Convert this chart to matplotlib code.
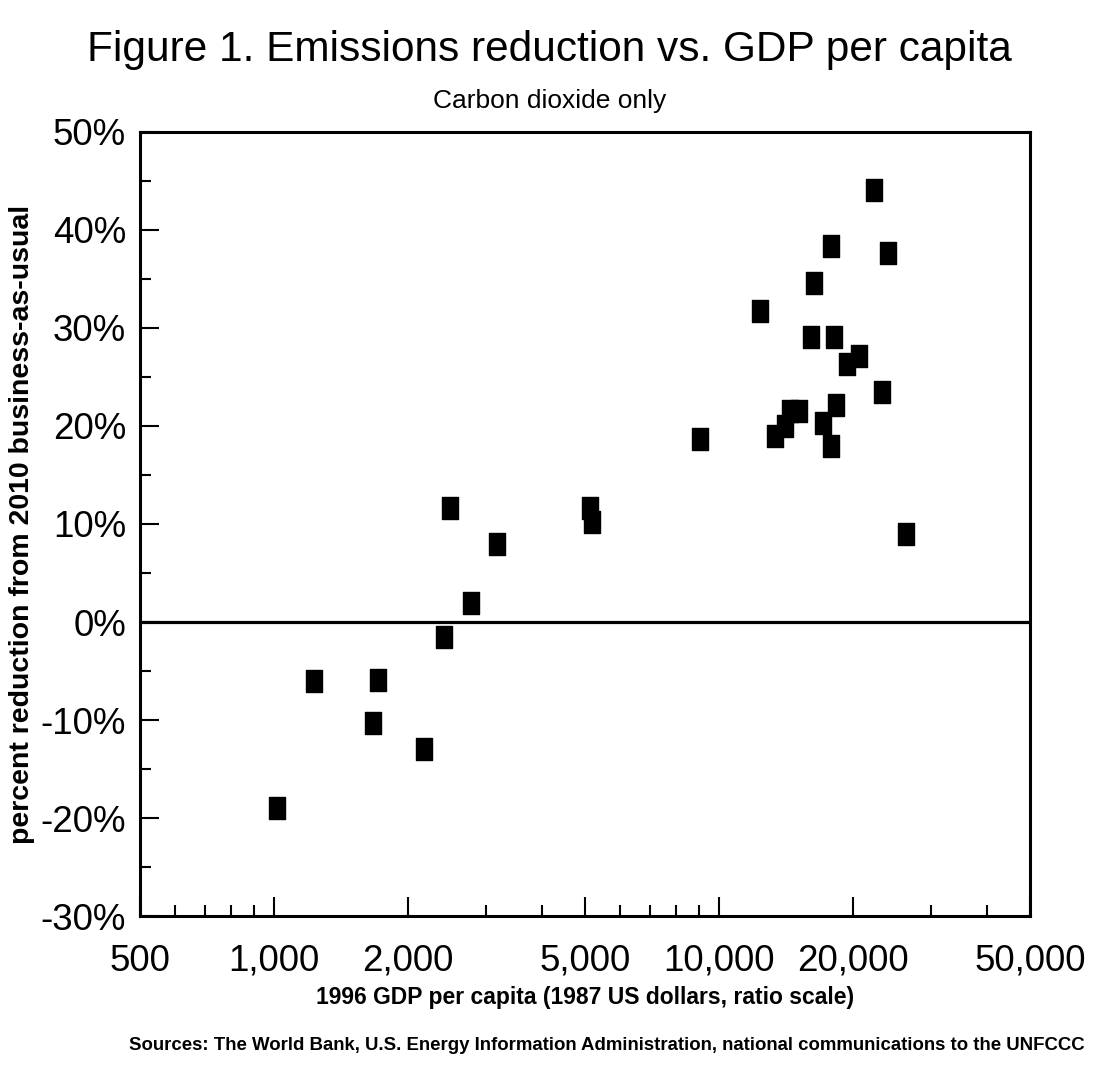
import matplotlib
matplotlib.use("Agg")
import matplotlib.pyplot as plt
from matplotlib.path import Path
from matplotlib.ticker import FixedLocator, FuncFormatter, NullFormatter

gdp = [1016, 1229, 1709, 1666, 2176, 2413, 2489, 2773, 3170, 5119, 5171, 9068,
       12354, 13346, 14049, 14414, 15100, 16062, 16312, 17088, 17807, 17807,
       18085, 18269, 19336, 20570, 22336, 23276, 24005, 26338]
reduction = [-19.0, -6.0, -5.9, -10.3, -13.0, -1.5, 11.6, 1.9, 8.0, 11.6, 10.2, 18.7,
             31.7, 19.0, 20.0, 21.5, 21.5, 29.1, 34.6, 20.3, 38.4, 18.0,
             29.1, 22.1, 26.3, 27.1, 44.1, 23.5, 37.7, 9.0]

x_major = [500, 1000, 2000, 5000, 10000, 20000, 50000]
x_minor = [600, 700, 800, 900, 3000, 4000, 6000, 7000, 8000, 9000, 30000, 40000]
y_major = [-30, -20, -10, 0, 10, 20, 30, 40, 50]
y_minor = [-25, -15, -5, 5, 15, 25, 35, 45]

REG = ['Liberation Sans', 'DejaVu Sans']

fig = plt.figure(figsize=(10.99, 10.72), dpi=100)
ax = fig.add_axes([0.1274, 0.1455, 0.810, 0.7314])

rect = Path([(-0.36, -0.5), (0.36, -0.5), (0.36, 0.5), (-0.36, 0.5), (-0.36, -0.5)],
            [Path.MOVETO, Path.LINETO, Path.LINETO, Path.LINETO, Path.CLOSEPOLY])
ax.axhline(0, color='black', lw=2.3, zorder=1)
ax.plot(gdp, reduction, linestyle='none', marker=rect, markersize=16,
        color='black', zorder=3)

ax.set_xscale('log')
ax.set_xlim(500, 50000)
ax.set_ylim(-30, 50)
ax.xaxis.set_major_locator(FixedLocator(x_major))
ax.xaxis.set_minor_locator(FixedLocator(x_minor))
ax.xaxis.set_minor_formatter(NullFormatter())
ax.xaxis.set_major_formatter(FuncFormatter(lambda v, p: f"{int(round(v)):,}"))
ax.yaxis.set_major_locator(FixedLocator(y_major))
ax.yaxis.set_minor_locator(FixedLocator(y_minor))
ax.yaxis.set_major_formatter(FuncFormatter(lambda v, p: f"{int(round(v))}%"))

ax.tick_params(which='both', direction='in', top=False, right=False, width=1.5, color='black')
ax.tick_params(which='major', length=14)
ax.tick_params(which='minor', length=8)
ax.tick_params(axis='x', which='major', pad=20)
ax.tick_params(axis='y', which='major', pad=10)
for lab in ax.get_xticklabels() + ax.get_yticklabels():
    lab.set_fontfamily(REG)
    lab.set_fontsize(26.5)
for s in ax.spines.values():
    s.set_linewidth(2.2)

ax.set_ylabel('percent reduction from 2010 business-as-usual', fontsize=20.5,
              fontweight='bold', family=REG, labelpad=4)
ax.set_xlabel('1996 GDP per capita (1987 US dollars, ratio scale)', fontsize=16.5,
              fontweight='bold', family=REG, labelpad=5)

fig.text(0.5, 0.953, 'Figure 1. Emissions reduction vs. GDP per capita', ha='center',
         va='center', fontsize=30.5, family=REG)
fig.text(0.5, 0.906, 'Carbon dioxide only', ha='center', va='center', fontsize=19,
         family=REG)
fig.text(0.552, 0.025, 'Sources: The World Bank, U.S. Energy Information Administration, '
         'national communications to the UNFCCC', ha='center', va='center',
         fontsize=13.4, fontweight='bold', family=REG)

fig.savefig('out.png', dpi=100)
